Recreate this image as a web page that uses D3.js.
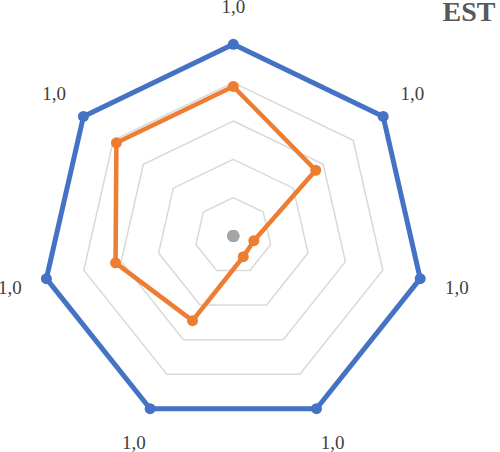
<!DOCTYPE html>
<html>
<head>
<meta charset="utf-8">
<script src="https://cdn.jsdelivr.net/npm/d3@7"></script>
<style>
  html, body { margin: 0; padding: 0; background: #fff; }
  svg { display: block; }
</style>
</head>
<body>
<div id="chart"></div>
<script>
// Chart data (axis names are not shown in the picture)
const categories = ["A1", "A2", "A3", "A4", "A5", "A6", "A7"];
const seriesBlue = [1.0, 1.0, 1.0, 1.0, 1.0, 1.0, 1.0];
const seriesOrange = [0.78, 0.55, 0.11, 0.12, 0.49, 0.63, 0.78];
const seriesGray = [0, 0, 0, 0, 0, 0, 0];
const gridLevels = [0.2, 0.4, 0.6, 0.8, 1.0];
const title = "EST";

const width = 500, height = 452;
const cx = 233.3, cy = 236, radius = 191.7;

const svg = d3.select("#chart").append("svg")
    .attr("width", width)
    .attr("height", height);

const r = d3.scaleLinear().domain([0, 1]).range([0, radius]);
const angle = d3.scaleLinear()
    .domain([0, categories.length])
    .range([0, 2 * Math.PI]);

const point = (v, i) => [
    cx + r(v) * Math.sin(angle(i)),
    cy - r(v) * Math.cos(angle(i))
];

const ring = d3.line().curve(d3.curveLinearClosed);

// Grid heptagons
svg.append("g")
    .selectAll("path")
    .data(gridLevels)
    .join("path")
    .attr("d", lv => ring(categories.map((c, i) => point(lv, i))))
    .attr("fill", "none")
    .attr("stroke", "#d9d9d9")
    .attr("stroke-width", 1.5);

const series = [
    { values: seriesBlue, color: "#4472c4", width: 5, dot: 5.5 },
    { values: seriesOrange, color: "#ed7d31", width: 4.5, dot: 5.5 },
    { values: seriesGray, color: "#a5a5a5", width: 4.5, dot: 6 }
];

series.forEach(s => {
    const pts = s.values.map((v, i) => point(v, i));
    const g = svg.append("g");
    if (d3.max(s.values) > 0) {
        g.append("path")
            .attr("d", ring(pts))
            .attr("fill", "none")
            .attr("stroke", s.color)
            .attr("stroke-width", s.width)
            .attr("stroke-linejoin", "round");
    }
    g.selectAll("circle")
        .data(pts)
        .join("circle")
        .attr("cx", d => d[0])
        .attr("cy", d => d[1])
        .attr("r", s.dot)
        .attr("fill", s.color);
});

// Data labels on the outer series, decimal comma
const fmt = d3.formatLocale({ decimal: ",", thousands: " ", grouping: [3], currency: ["", ""] }).format(".1f");

svg.append("g")
    .selectAll("text")
    .data(seriesBlue)
    .join("text")
    .attr("x", (v, i) => cx + (r(v) + 37.5) * Math.sin(angle(i)))
    .attr("y", (v, i) => cy - (r(v) + 37.5) * Math.cos(angle(i)))
    .attr("dy", "0.35em")
    .attr("text-anchor", "middle")
    .attr("font-family", "'Liberation Serif', 'Times New Roman', serif")
    .attr("font-size", 19)
    .attr("fill", "#404040")
    .text(v => fmt(v));

svg.append("text")
    .attr("x", 495.5)
    .attr("y", 20.5)
    .attr("text-anchor", "end")
    .attr("font-family", "'Liberation Serif', 'Times New Roman', serif")
    .attr("font-weight", "bold")
    .attr("font-size", 28)
    .attr("fill", "#595959")
    .text(title);
</script>
</body>
</html>
